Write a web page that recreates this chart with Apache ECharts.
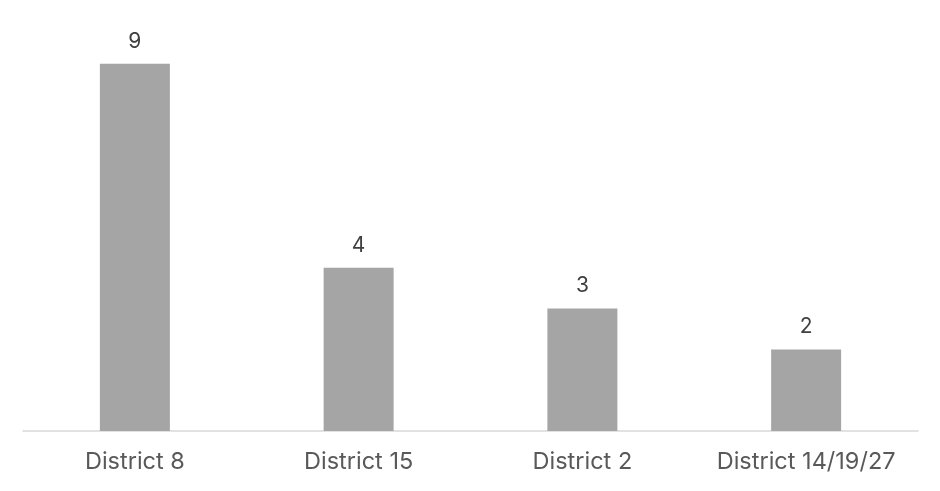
<!DOCTYPE html>
<html><head><meta charset="utf-8">
<script src="https://cdn.jsdelivr.net/npm/echarts@6/dist/echarts.min.js"></script>
<style>html,body{margin:0;padding:0;background:#fff}#c{width:940px;height:491px}</style>
</head><body><div id="c"></div>
<script>
const categories = ["District 8", "District 15", "District 2", "District 14/19/27"];
const values = [9, 4, 3, 2];
const chart = echarts.init(document.getElementById('c'));
chart.setOption({
  animation: false,
  grid: {left: 23, right: 22, top: 23, bottom: 60, containLabel: false},
  xAxis: {
    type: 'category', data: categories,
    axisLine: {lineStyle: {color: '#d9d9d9', width: 1.5}},
    axisTick: {show: false},
    axisLabel: {interval: 0, hideOverlap: false, color: '#595959', fontSize: 23.5, fontFamily: 'Inter, Roboto, sans-serif', margin: 19}
  },
  yAxis: {type: 'value', min: 0, max: 10, show: false, splitLine: {show: false}},
  series: [{
    type: 'bar', data: values, barWidth: 70,
    itemStyle: {color: '#a5a5a5'},
    label: {show: true, position: 'top', distance: 12, color: '#404040', fontSize: 21, fontFamily: 'Inter, Roboto, sans-serif'}
  }]
});
</script></body></html>
